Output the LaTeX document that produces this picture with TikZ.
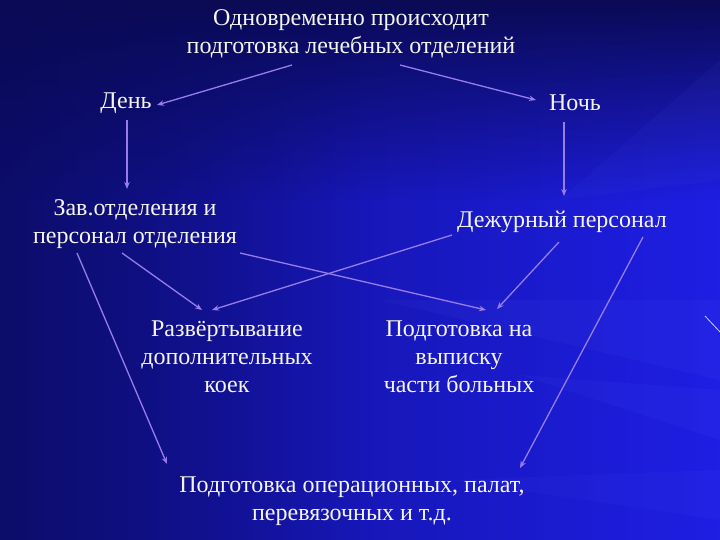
\documentclass[tikz,border=0pt]{standalone}
\usepackage{fontspec}
\setmainfont{Liberation Serif}
\usetikzlibrary{arrows.meta,fadings}
\definecolor{bgdark}{RGB}{10,10,85}
\definecolor{bgleft}{RGB}{16,16,140}
\definecolor{bgright}{RGB}{30,30,228}
\definecolor{streak}{RGB}{100,120,255}
\definecolor{txt}{RGB}{245,245,240}
\definecolor{arr}{RGB}{150,125,235}
\tikzset{
  lbl/.style={text=txt, align=center, font=\fontsize{24}{28}\selectfont, inner sep=0pt},
  conn/.style={draw=arr, line width=1.3pt, -{Stealth[length=7pt,width=5.5pt]}}
}
\begin{document}
\begin{tikzpicture}[x=1pt,y=-1pt]
\useasboundingbox (0,0) rectangle (720,540);
% background
\shade[left color=bgleft, right color=bgright] (0,0) rectangle (720,540);
\fill[bgdark, path fading=south] (0,0) rectangle (720,200);
\fill[bgdark, path fading=east, opacity=0.6] (0,0) rectangle (360,540);
\fill[streak, opacity=0.06] (720,300) -- (380,300) -- (720,380) -- cycle;
\fill[streak, opacity=0.06] (720,390) -- (520,375) -- (720,440) -- cycle;
\fill[streak, opacity=0.05] (720,60) -- (560,200) -- (720,180) -- cycle;
\fill[streak, opacity=0.05] (720,470) -- (450,480) -- (720,520) -- cycle;
\draw[white!80!blue, line width=0.8pt] (705,316) coordinate (s1) -- (720,332) coordinate (s2);
% nodes
\node[lbl] (top) at (351,34) {Одновременно происходит\\подготовка лечебных отделений};
\node[lbl] (den) at (126,103) {День};
\node[lbl] (noch) at (575,103) {Ночь};
\node[lbl] (zav) at (135,224) {Зав.отделения и\\персонал отделения};
\node[lbl] (dezh) at (562,222) {Дежурный персонал};
\node[lbl] (razv) at (227,357) {Развёртывание\\дополнительных\\коек};
\node[lbl] (vyp) at (459,357) {Подготовка на\\выписку\\части больных};
\node[lbl] (oper) at (352,501) {Подготовка операционных, палат,\\перевязочных и т.д.};
% connector end points
\coordinate (t1) at (292,65);
\coordinate (t2) at (400,65);
\coordinate (d1) at (157,105);
\coordinate (n1) at (536,100);
\coordinate (d2) at (127,120);
\coordinate (z1) at (127,189);
\coordinate (n2) at (564,122);
\coordinate (dz1) at (564,196);
\coordinate (za) at (77,253);
\coordinate (zb) at (122,253);
\coordinate (zc) at (240,253);
\coordinate (o1) at (167,464);
\coordinate (r1) at (202,310);
\coordinate (r2) at (212,310);
\coordinate (v1) at (486,310);
\coordinate (v2) at (497,309);
\coordinate (da) at (452,235);
\coordinate (db) at (559,242);
\coordinate (dc) at (643,237);
\coordinate (o2) at (520,468);
% connectors
\draw[conn] (t1) -- (d1);
\draw[conn] (t2) -- (n1);
\draw[conn] (d2) -- (z1);
\draw[conn] (n2) -- (dz1);
\draw[conn] (za) -- (o1);
\draw[conn] (zb) -- (r1);
\draw[conn] (zc) -- (v1);
\draw[conn] (da) -- (r2);
\draw[conn] (db) -- (v2);
\draw[conn] (dc) -- (o2);
\end{tikzpicture}
\end{document}
